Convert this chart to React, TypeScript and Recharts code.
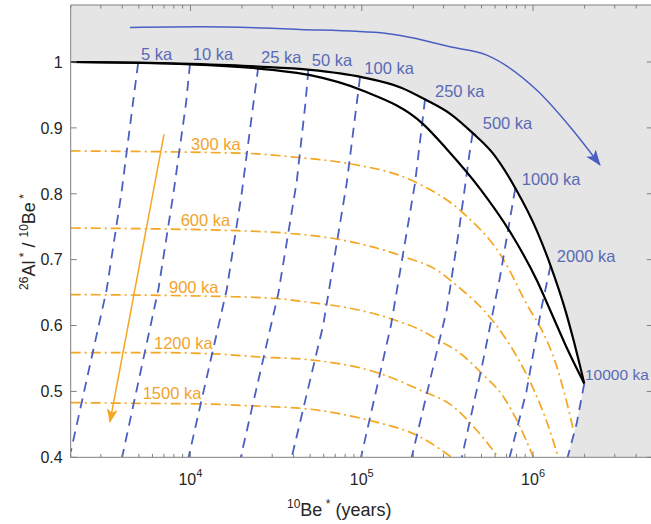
import React from "react";
import { ComposedChart, Line, Area, XAxis, YAxis, CartesianGrid, ReferenceDot } from "recharts";

type Pt = { x: number; y: number };
const pts = (a: number[][]): Pt[] => a.map(([x, y]) => ({ x, y }));

// axes
const X_DOMAIN = [2000, 5e6];
const Y_DOMAIN = [0.4, 1.0865];
const X_TICKS = [
  2000, 3000, 4000, 5000, 6000, 7000, 8000, 9000,
  1e4, 2e4, 3e4, 4e4, 5e4, 6e4, 7e4, 8e4, 9e4,
  1e5, 2e5, 3e5, 4e5, 5e5, 6e5, 7e5, 8e5, 9e5,
  1e6, 2e6, 3e6, 4e6, 5e6,
];
const X_MAJOR = [1e4, 1e5, 1e6];
const X_MAJOR_EXP = ["4", "5", "6"];
const Y_TICKS = [0.4, 0.5, 0.6, 0.7, 0.8, 0.9, 1];
const Y_TICK_LABELS = ["0.4", "0.5", "0.6", "0.7", "0.8", "0.9", "1"];

// constant exposure (upper) and steady erosion (lower) curves
const exposure = [
  [2000, 1.0], [5000, 0.999], [10000, 0.997], [25000, 0.993], [50000, 0.988],
  [100000, 0.977], [170000, 0.961], [235000, 0.943], [330000, 0.921], [445000, 0.892],
  [580000, 0.862], [790000, 0.808], [1056000, 0.743], [1265000, 0.691], [1556000, 0.62],
  [1730000, 0.576], [1990000, 0.512],
];
const erosion = [
  [2000, 1.0], [10000, 0.9965], [30000, 0.988], [50000, 0.98], [100000, 0.957],
  [230000, 0.905], [313000, 0.868], [496000, 0.806], [743000, 0.74], [1050000, 0.669],
  [1270000, 0.621], [1600000, 0.562], [1990000, 0.512],
];

// burial paths (exposure time, then burial)
const bur5 = [[4950, 0.998], [4640, 0.942], [3950, 0.8], [3240, 0.654], [2000, 0.408]];
const bur10 = [[9940, 0.997], [9420, 0.937], [7950, 0.8], [6500, 0.655], [3990, 0.4]];
const bur25 = [[24900, 0.993], [23300, 0.937], [19900, 0.8], [16300, 0.655], [9750, 0.4]];
const bur50 = [[48800, 0.988], [46900, 0.937], [41700, 0.818], [32600, 0.649], [19650, 0.4]];
const bur100 = [[97700, 0.977], [81700, 0.816], [59500, 0.6], [39000, 0.4]];
const bur250 = [[234000, 0.943], [204600, 0.816], [148000, 0.6], [99000, 0.4]];
const bur500 = [[444400, 0.892], [428600, 0.867], [372000, 0.75], [313300, 0.6235], [195700, 0.4]];
const bur1000 = [[787000, 0.808], [641600, 0.674], [505000, 0.54], [384000, 0.4]];
const bur2000 = [[1265000, 0.691], [1123000, 0.6285], [915000, 0.5], [730000, 0.4]];
const bur10000 = [[1990000, 0.512], [1798000, 0.4516], [1591000, 0.4]];
const BURIAL = [bur5, bur10, bur25, bur50, bur100, bur250, bur500, bur1000, bur2000, bur10000];

// burial isochrons
const iso300 = [
  [2000, 0.865], [21300, 0.8613], [42600, 0.855], [83500, 0.846], [204600, 0.818],
  [383300, 0.7727], [656200, 0.7044], [960000, 0.6235], [1110000, 0.596], [1370000, 0.539],
  [1550000, 0.49], [1714000, 0.443],
];
const iso600 = [
  [2000, 0.748], [18600, 0.744], [37300, 0.74], [72400, 0.731], [173400, 0.705],
  [286400, 0.681], [335000, 0.667], [586000, 0.606], [800000, 0.554], [980000, 0.51],
  [1210000, 0.452], [1404000, 0.4],
];
const iso900 = [
  [2000, 0.647], [15550, 0.644], [31900, 0.641], [49900, 0.635], [62300, 0.632],
  [149300, 0.61], [228800, 0.591], [283500, 0.577], [366200, 0.56], [512300, 0.525],
  [670600, 0.492], [820300, 0.4516], [1004000, 0.4],
];
const iso1200 = [
  [2000, 0.559], [5800, 0.559], [13600, 0.557], [26600, 0.552], [49900, 0.548],
  [128500, 0.527], [218900, 0.502], [342300, 0.477], [468900, 0.441], [627200, 0.4],
];
const iso1500 = [
  [2000, 0.483], [4640, 0.482], [11900, 0.481], [23300, 0.478], [49900, 0.473],
  [110700, 0.456], [218900, 0.431], [335000, 0.4],
];
const ISOCHRONS = [iso300, iso600, iso900, iso1200, iso1500];

// arrows
const arrowErosion = [
  [4436, 1.0525], [11380, 1.0535], [43620, 1.0495], [140000, 1.0434], [218800, 1.0343],
  [327700, 1.0231], [537000, 1.0105], [1050000, 0.9574], [1643000, 0.9017], [2460000, 0.8436],
];
const arrowBurial = [[7010, 0.89], [3390, 0.4536]];

// annotations (text start, baseline)
const blueLabels = [
  { text: "5 ka", x: 5145, y: 1.003 },
  { text: "10 ka", x: 10310, y: 1.003 },
  { text: "25 ka", x: 25820, y: 0.998 },
  { text: "50 ka", x: 51040, y: 0.994 },
  { text: "100 ka", x: 103500, y: 0.982 },
  { text: "250 ka", x: 267700, y: 0.947 },
  { text: "500 ka", x: 508300, y: 0.898 },
  { text: "1000 ka", x: 858800, y: 0.813 },
  { text: "2000 ka", x: 1375000, y: 0.697 },
  { text: "10000 ka", x: 2010000, y: 0.517, size: 15.5 },
];
const orangeLabels = [
  { text: "300 ka", x: 10080, y: 0.867 },
  { text: "600 ka", x: 8773, y: 0.751 },
  { text: "900 ka", x: 7496, y: 0.65 },
  { text: "1200 ka", x: 6128, y: 0.565 },
  { text: "1500 ka", x: 5264, y: 0.4885 },
];

const FONT = "'Liberation Sans', Arial, Helvetica, sans-serif";
const AXIS = "#808080";
const GREY = "#e5e5e5";
const BLUE = "#4a5fc0";
const BLUE_TXT = "#5a6ab6";
const ORANGE = "#f5a623";
const ORANGE_TXT = "#f2a32c";
const TEXT = "#262626";

const BottomTick = (p: any) => {
  const i = X_MAJOR.indexOf(p.payload.value);
  return (
    <g>
      <line x1={p.x} x2={p.x} y1={p.y} y2={p.y - (i >= 0 ? 6 : 3.5)} stroke={AXIS} />
      {i >= 0 && (
        <text x={p.x} y={p.y + 28} textAnchor="middle" fill={TEXT} fontSize={16} fontFamily={FONT}>
          <tspan>10</tspan>
          <tspan fontSize={11} dy={-8}>{X_MAJOR_EXP[i]}</tspan>
        </text>
      )}
    </g>
  );
};

const TopTick = (p: any) => {
  const major = X_MAJOR.indexOf(p.payload.value) >= 0;
  return <line x1={p.x} x2={p.x} y1={p.y} y2={p.y + (major ? 6 : 3.5)} stroke={AXIS} />;
};

const LeftTick = (p: any) => {
  const i = Y_TICKS.indexOf(p.payload.value);
  return (
    <g>
      <line x1={p.x} x2={p.x + 6} y1={p.y} y2={p.y} stroke={AXIS} />
      <text x={p.x - 8} y={p.y} dy="0.36em" textAnchor="end" fill={TEXT} fontSize={16} fontFamily={FONT}>
        {Y_TICK_LABELS[i]}
      </text>
    </g>
  );
};

const RightTick = (p: any) => <line x1={p.x} x2={p.x - 6} y1={p.y} y2={p.y} stroke={AXIS} />;

const textShape = (text: string, color: string, size = 16.5) => (p: any) => (
  <text x={p.cx} y={p.cy} fill={color} fontSize={size} fontFamily={FONT}>
    {text}
  </text>
);

const YTitle = () => (
  <text
    x={35}
    y={242}
    transform="rotate(-90 35 242)"
    textAnchor="middle"
    fill={TEXT}
    fontSize={18}
    fontFamily={FONT}
  >
    <tspan fontSize={12} dy={-7}>26</tspan>
    <tspan dy={7}>Al</tspan>
    <tspan fontSize={12} dy={-7}> *</tspan>
    <tspan dy={7}> / </tspan>
    <tspan fontSize={12} dy={-7}>10</tspan>
    <tspan dy={7}>Be</tspan>
    <tspan fontSize={12} dy={-7}> *</tspan>
  </text>
);

const XTitle = () => (
  <text x={287} y={516} fill={TEXT} fontSize={18} fontFamily={FONT}>
    <tspan fontSize={12} dy={-8}>10</tspan>
    <tspan dy={8}>Be</tspan>
    <tspan fontSize={12} dy={-8}> *</tspan>
    <tspan dy={8}> (years)</tspan>
  </text>
);

export default function App() {
  const whiteRegion = pts([...exposure, ...bur10000.slice(1)]);
  return (
    <div style={{ position: "absolute", left: 0, top: 0, width: 651, height: 524, overflow: "hidden", background: "#fff" }}>
      <svg width={0} height={0} style={{ position: "absolute" }}>
        <defs>
          <marker id="headBlue" viewBox="0 0 16 12" refX={15} refY={6} markerWidth={16} markerHeight={12} markerUnits="userSpaceOnUse" orient="auto">
            <path d="M0,0 L16,6 L0,12 L4,6 Z" fill={BLUE} />
          </marker>
          <marker id="headOrange" viewBox="0 0 14 11" refX={13} refY={5.5} markerWidth={14} markerHeight={11} markerUnits="userSpaceOnUse" orient="auto">
            <path d="M0,0 L14,5.5 L0,11 L3.5,5.5 Z" fill={ORANGE} />
          </marker>
        </defs>
      </svg>
      <ComposedChart width={662} height={524} margin={{ top: 4, right: 8.2, bottom: 26.7, left: 10.7 }}>
        <CartesianGrid fill={GREY} horizontal={false} vertical={false} />
        <XAxis
          dataKey="x"
          type="number"
          scale="log"
          domain={X_DOMAIN}
          allowDataOverflow
          ticks={X_TICKS}
          interval={0}
          tickSize={0}
          tickMargin={0}
          tickLine={false}
          tick={BottomTick}
          axisLine={{ stroke: AXIS }}
          height={40}
          label={{ content: XTitle }}
        />
        <XAxis
          xAxisId="top"
          orientation="top"
          dataKey="x"
          type="number"
          scale="log"
          domain={X_DOMAIN}
          allowDataOverflow
          ticks={X_TICKS}
          interval={0}
          tickSize={0}
          tickMargin={0}
          tickLine={false}
          tick={TopTick}
          axisLine={{ stroke: AXIS }}
          height={1}
        />
        <YAxis
          type="number"
          domain={Y_DOMAIN}
          allowDataOverflow
          ticks={Y_TICKS}
          interval={0}
          tickSize={0}
          tickMargin={0}
          tickLine={false}
          tick={LeftTick}
          axisLine={{ stroke: AXIS }}
          width={60}
          label={{ content: YTitle }}
        />
        <YAxis
          yAxisId="r"
          orientation="right"
          type="number"
          domain={Y_DOMAIN}
          allowDataOverflow
          ticks={Y_TICKS}
          interval={0}
          tickSize={0}
          tickMargin={0}
          tickLine={false}
          tick={RightTick}
          axisLine={{ stroke: AXIS }}
          width={1}
        />

        <Area
          data={whiteRegion}
          dataKey="y"
          type="linear"
          stroke="none"
          fill="#ffffff"
          fillOpacity={1}
          baseValue={0.4}
          dot={false}
          activeDot={false}
          isAnimationActive={false}
        />

        {ISOCHRONS.map((d, i) => (
          <Line
            key={"iso" + i}
            data={pts(d)}
            dataKey="y"
            type="monotone"
            stroke={ORANGE}
            strokeWidth={1.7}
            strokeDasharray="10 4 2 4"
            dot={false}
            activeDot={false}
            isAnimationActive={false}
          />
        ))}

        {BURIAL.map((d, i) => (
          <Line
            key={"bur" + i}
            data={pts(d)}
            dataKey="y"
            type="linear"
            stroke={BLUE}
            strokeWidth={1.8}
            strokeDasharray="10 7"
            dot={false}
            activeDot={false}
            isAnimationActive={false}
          />
        ))}

        <Line
          data={pts(erosion)}
          dataKey="y"
          type="monotone"
          stroke="#000"
          strokeWidth={2.2}
          dot={false}
          activeDot={false}
          isAnimationActive={false}
        />
        <Line
          data={pts(exposure)}
          dataKey="y"
          type="monotone"
          stroke="#000"
          strokeWidth={2.2}
          dot={false}
          activeDot={false}
          isAnimationActive={false}
        />

        <Line
          data={pts(arrowErosion)}
          dataKey="y"
          type="monotone"
          stroke={BLUE}
          strokeWidth={1.5}
          markerEnd="url(#headBlue)"
          dot={false}
          activeDot={false}
          isAnimationActive={false}
        />
        <Line
          data={pts(arrowBurial)}
          dataKey="y"
          type="linear"
          stroke={ORANGE}
          strokeWidth={1.5}
          markerEnd="url(#headOrange)"
          dot={false}
          activeDot={false}
          isAnimationActive={false}
        />

        {blueLabels.map((l) => (
          <ReferenceDot key={l.text} x={l.x} y={l.y} r={0} shape={textShape(l.text, BLUE_TXT, l.size)} />
        ))}
        {orangeLabels.map((l) => (
          <ReferenceDot key={l.text} x={l.x} y={l.y} r={0} shape={textShape(l.text, ORANGE_TXT)} />
        ))}
      </ComposedChart>
    </div>
  );
}
